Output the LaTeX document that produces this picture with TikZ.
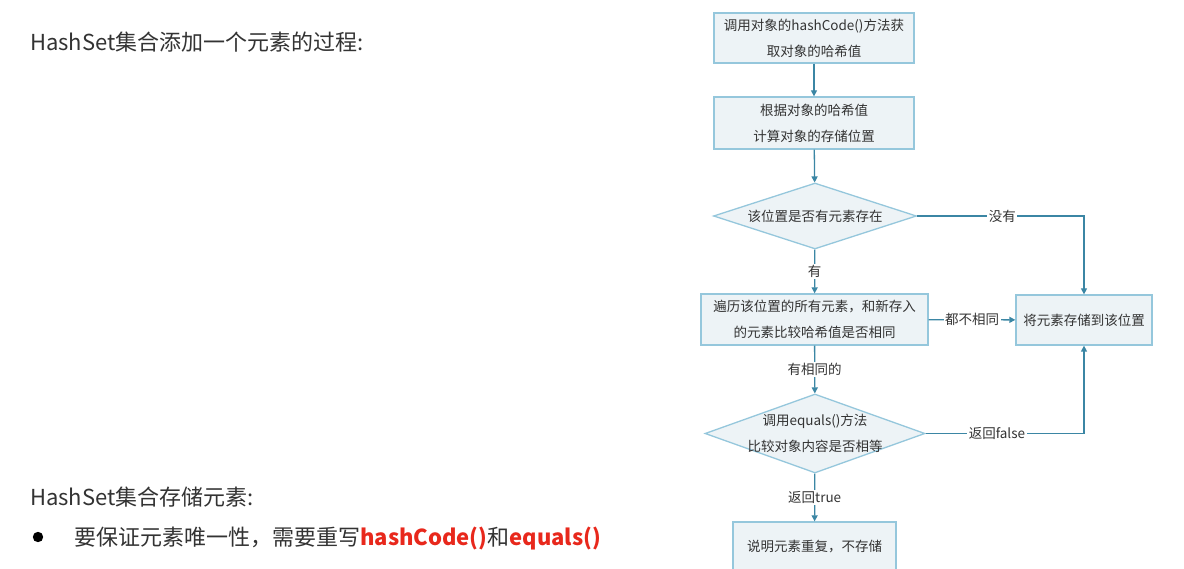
\documentclass[tikz,border=0pt]{standalone}
\usepackage{fontspec}
\setmainfont{Noto Sans CJK SC}
\usetikzlibrary{shapes.geometric,arrows.meta}
\definecolor{boxline}{HTML}{95C7DC}
\definecolor{boxfill}{HTML}{EDF3F6}
\definecolor{conn}{HTML}{3B86A4}
\definecolor{txt}{HTML}{333333}
\definecolor{hl}{HTML}{E8281C}
\tikzset{
  flowbox/.style={draw=boxline,fill=boxfill,line width=1.3pt,inner sep=0pt,align=center,text=txt,
    font=\fontsize{13.5}{26}\selectfont},
  decision/.style={diamond,draw=boxline,fill=boxfill,line width=1.3pt,inner sep=0pt},
  dtext/.style={align=center,text=txt,font=\fontsize{13.5}{26}\selectfont},
  flow/.style={draw=conn,line width=1.3pt,-{Triangle[length=6pt,width=6pt]}},
  lbl/.style={fill=white,inner sep=1.5pt,text=txt,font=\fontsize{13.5}{16}\selectfont},
  lefttext/.style={anchor=base west,inner sep=0pt,text=txt,font=\fontsize{22}{26}\selectfont}
}
\begin{document}
\begin{tikzpicture}[x=1pt,y=-1pt]
\useasboundingbox[fill=white] (0,0) rectangle (1184,569);
\clip (0,0) rectangle (1184,569);
% left texts
\node[lefttext] (t1) at (30,51) {HashSet集合添加一个元素的过程:};
\node[lefttext] (t2) at (30,505) {HashSet集合存储元素:};
\fill[black] (38,537) circle (5.2);
\node[lefttext] (t3) at (74,545) {要保证元素唯一性，需要重写{\bfseries\color{hl}hashCode()}和{\bfseries\color{hl}equals()}};
% flowchart nodes
\node[flowbox,minimum width=200,minimum height=50] (b1) at (814,38) {调用对象的hashCode()方法获\\取对象的哈希值};
\node[flowbox,minimum width=200,minimum height=52] (b2) at (814,123) {根据对象的哈希值\\计算对象的存储位置};
\node[decision,minimum width=203,minimum height=66] (d1) at (815,216) {};
\node[dtext] (d1t) at (d1.center) {该位置是否有元素存在};
\node[flowbox,minimum width=227,minimum height=51] (b3) at (814.5,319.5) {遍历该位置的所有元素，和新存入\\的元素比较哈希值是否相同};
\node[flowbox,minimum width=136,minimum height=50] (b4) at (1084,320) {将元素存储到该位置};
\node[decision,minimum width=220,minimum height=79] (d2) at (815,433.5) {};
\node[dtext] (d2t) at (d2.center) {调用equals()方法\\比较对象内容是否相等};
\node[flowbox,minimum width=163,minimum height=50] (b5) at (814.5,547) {说明元素重复，不存储};
% connectors
\draw[flow] (b1) -- (b2);
\draw[flow] (b2) -- (d1);
\draw[flow] (d1) -- node[lbl] {有} (b3);
\draw[flow] (d1.east) -| node[lbl,pos=0.255] {没有} (b4.north);
\draw[flow] (b3) -- node[lbl] {都不相同} (b4);
\draw[flow] (b3) -- node[lbl] {有相同的} (d2);
\draw[flow] (d2.east) -| node[lbl,pos=0.225] {返回false} (b4.south);
\draw[flow] (d2) -- node[lbl] {返回true} (b5);
\end{tikzpicture}
\end{document}
